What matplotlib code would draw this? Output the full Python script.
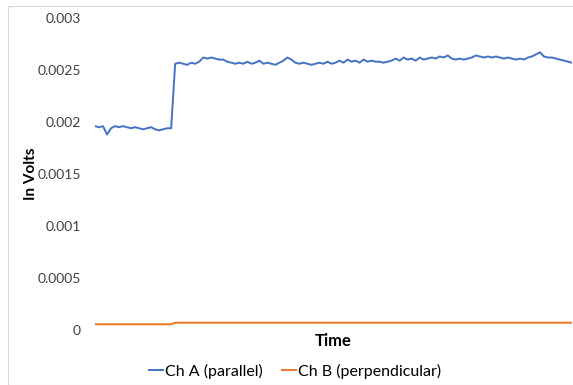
import matplotlib
matplotlib.use("Agg")
import matplotlib.pyplot as plt
from matplotlib.patches import Rectangle
import numpy as np

# Ch A (parallel), units of 1e-5 V
ch_a = [196,195,196,188,194,196,195,196,195,194,195,194,193,194,195,193,192,193,194,
        194,
        256,257,256,255,257,256,258,
        262,261,262,261,260,260,
        258,257,256,257,256,258,256,257,259,256,257,
        256,255,257,259,262,260,
        257,256,257,256,255,256,257,256,258,256,257,
        259,257,260,258,259,257,260,258,259,258,258,257,258,
        259,261,259,262,260,261,259,262,260,261,262,261,
        263,262,264,261,260,261,260,261,
        262,264,263,262,263,262,263,262,261,262,261,260,261,260,262,263,265,
        267,
        263,262,262,261,260,259,258,257]
# Ch B (perpendicular), units of 1e-5 V
ch_b = [5.5]*20 + [7.0]*100

yticks = [0, 0.0005, 0.001, 0.0015, 0.002, 0.0025, 0.003]
ytick_labels = ["0", "0.0005", "0.001", "0.0015", "0.002", "0.0025", "0.003"]

plt.rcParams['font.family'] = ['Lato', 'DejaVu Sans']

W, H = 573, 385
fig = plt.figure(figsize=(W/100, H/100), dpi=100)
fig.patches.append(Rectangle((8/W, 0), 1.0, 1 - 6/H, transform=fig.transFigure,
                             fill=False, edgecolor='#d9d9d9', lw=0.8))

ax = fig.add_axes([95/W, 1 - 330/H, (572 - 95)/W, (330 - 18)/H])
x = np.arange(len(ch_a))
a = np.array(ch_a) * 1e-5
b = np.array(ch_b) * 1e-5
ax.plot(x, a, color='#4472C4', lw=1.4, label='Ch A (parallel)')
ax.plot(x, b, color='#ED7D31', lw=1.5, label='Ch B (perpendicular)')
ax.set_xlim(0, len(ch_a) - 1)
ax.set_ylim(0, 0.003)
ax.set_yticks(yticks)
ax.set_yticklabels(ytick_labels)
ax.set_xticks([])
for s in ax.spines.values():
    s.set_visible(False)
ax.tick_params(axis='y', length=0, pad=10, labelsize=10, labelcolor='#404040')
ax.set_xlabel('Time', fontsize=12, fontweight='bold', labelpad=2)
ax.set_ylabel('In Volts', fontsize=11, fontweight='bold')
ax.yaxis.set_label_coords(-57/477, 0.5)

fig.legend(loc='center', bbox_to_anchor=(295/W, 1 - 371/H), ncol=2, frameon=False,
           fontsize=11.5, handlelength=0.9, handletextpad=0.1, columnspacing=1.2)

fig.savefig('out.png', dpi=100)
